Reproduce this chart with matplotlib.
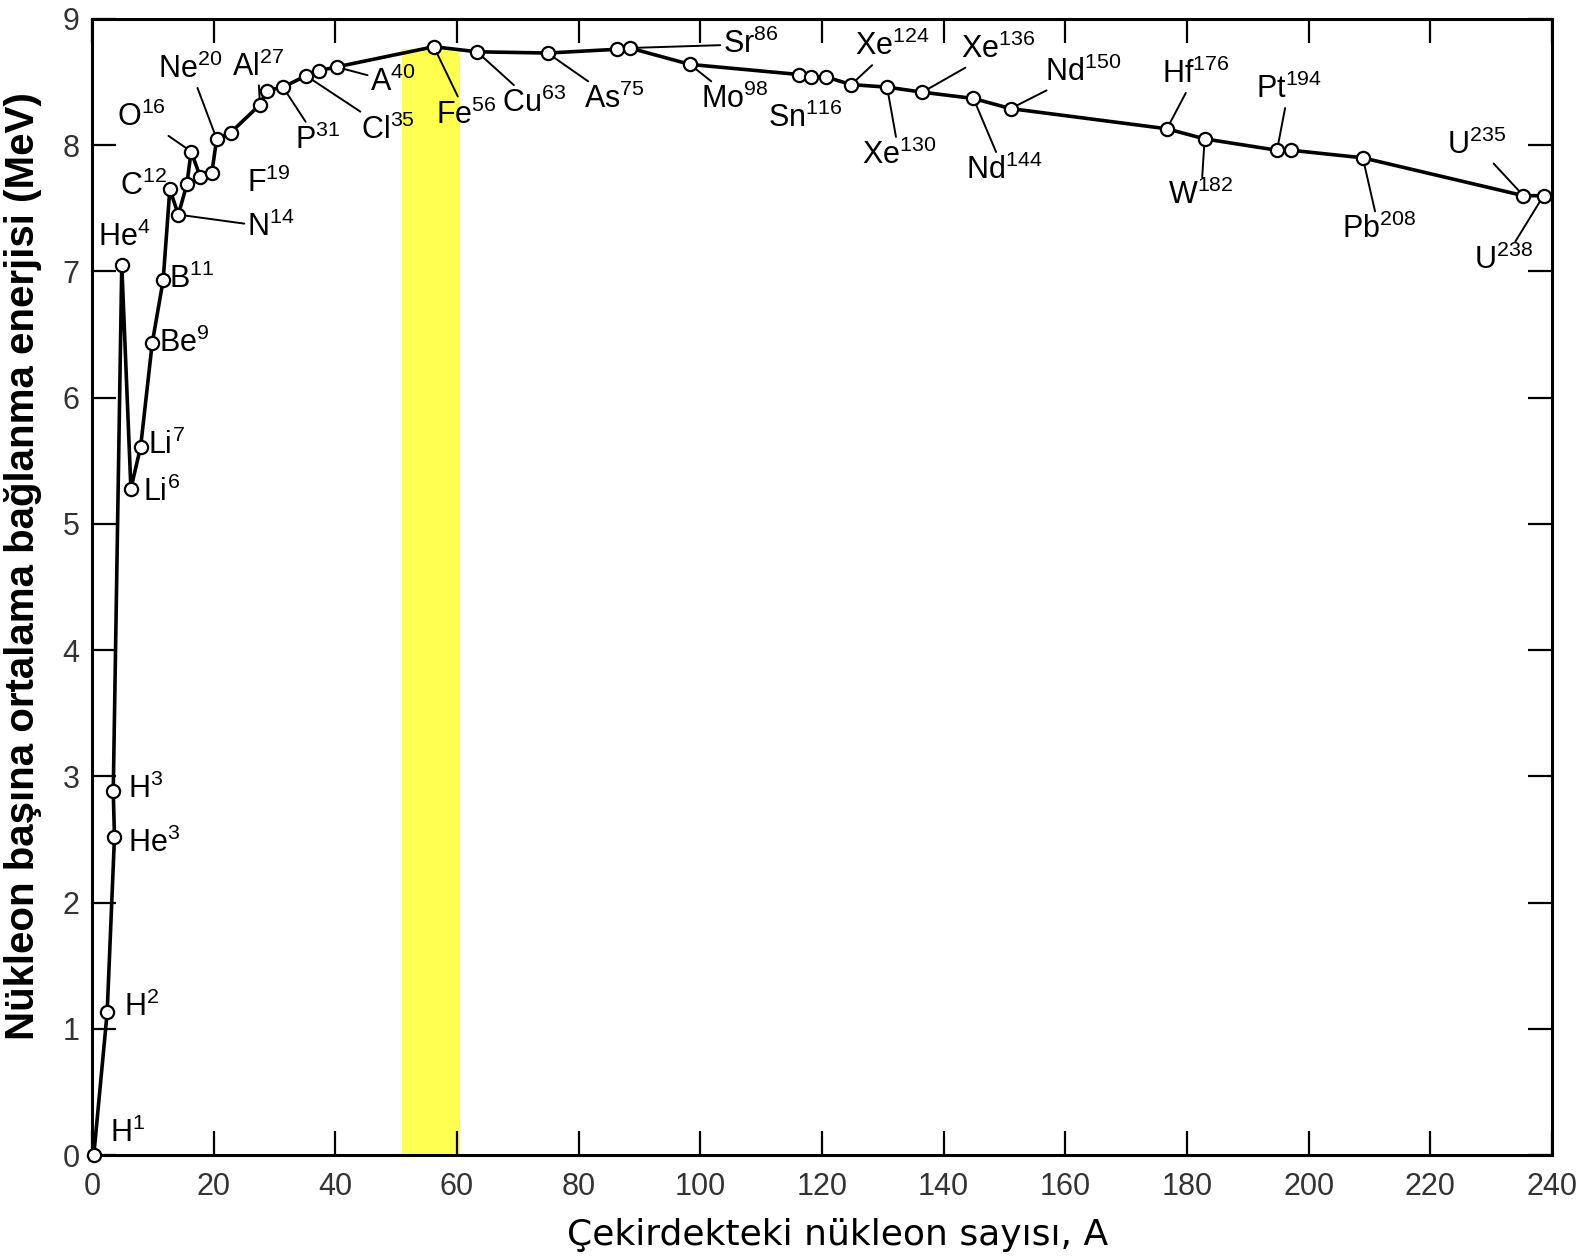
import numpy as np
import matplotlib.pyplot as plt

plt.rcParams['font.family'] = ['Liberation Sans', 'DejaVu Sans']
plt.rcParams['mathtext.default'] = 'regular'

# nucleus mass number A and binding energy per nucleon (MeV), in drawing order
mass_num = [0.3, 2.5, 3.7, 3.5, 4.9, 6.4, 8.0, 9.9, 11.7, 12.8, 14.2, 15.6, 16.3,
            17.8, 19.7, 20.5, 22.8, 27.6, 28.7, 31.4, 35.2, 37.3, 40.2, 56.2,
            63.3, 74.9, 86.3, 88.4, 98.3, 116.2, 118.2, 120.7, 124.8, 130.7,
            136.5, 144.9, 151.0, 176.7, 182.9, 194.8, 197.1, 208.9, 235.3, 238.6]
energy = [0.0, 1.13, 2.52, 2.88, 7.05, 5.28, 5.61, 6.43, 6.93, 7.65, 7.45, 7.69,
          7.95, 7.75, 7.78, 8.05, 8.10, 8.32, 8.43, 8.46, 8.55, 8.59, 8.62, 8.78,
          8.74, 8.73, 8.76, 8.77, 8.64, 8.56, 8.54, 8.54, 8.48, 8.46, 8.42, 8.37,
          8.29, 8.13, 8.05, 7.96, 7.96, 7.90, 7.60, 7.60]

# labelled nuclei: symbol, superscript, index of the point
symbols = ['H', 'H', 'H', 'He', 'He', 'Li', 'Li', 'Be', 'B', 'C', 'N', 'O', 'F',
           'Ne', 'Al', 'P', 'Cl', 'A', 'Fe', 'Cu', 'As', 'Sr', 'Mo', 'Sn', 'Xe',
           'Xe', 'Xe', 'Nd', 'Nd', 'Hf', 'W', 'Pt', 'Pb', 'U', 'U']
supers = ['1', '2', '3', '3', '4', '6', '7', '9', '11', '12', '14', '16', '19',
          '20', '27', '31', '35', '40', '56', '63', '75', '86', '98', '116', '124',
          '130', '136', '144', '150', '176', '182', '194', '208', '235', '238']
point_idx = [0, 1, 3, 2, 4, 5, 6, 7, 8, 9, 10, 12, 14, 15, 17, 19, 20, 22, 23, 24,
             25, 27, 28, 31, 32, 33, 34, 35, 36, 37, 38, 39, 41, 42, 43]
label_A = [5.9, 8.1, 8.9, 10.2, 5.3, 11.4, 12.3, 15.2, 16.4, 8.4, 29.4, 8.2, 29.0,
           16.2, 27.3, 37.1, 48.7, 49.5, 61.6, 72.7, 85.9, 108.3, 105.6, 117.2,
           131.5, 132.7, 148.9, 149.9, 162.9, 181.4, 182.3, 196.7, 211.6, 227.6, 232.1]
label_E = [0.17, 1.17, 2.9, 2.47, 7.27, 5.25, 5.62, 6.43, 6.94, 7.67, 7.35, 8.22,
           7.70, 8.60, 8.62, 8.04, 8.12, 8.50, 8.24, 8.33, 8.36, 8.80, 8.36, 8.21,
           8.78, 7.92, 8.76, 7.80, 8.58, 8.56, 7.60, 8.44, 7.33, 8.00, 7.09]
leader = [0, 0, 0, 0, 0, 0, 0, 0, 0, 0, 1, 1, 0, 1, 1, 1, 1, 1, 1, 1, 1, 1, 1, 0,
          1, 1, 1, 1, 1, 1, 1, 1, 1, 1, 1]

band_A = [51, 60.5]
band_top = 8.76

fig = plt.figure(figsize=(15.91, 12.56), dpi=100)
ax = fig.add_axes([0.0578, 0.0804, 0.9177, 0.9045])

ax.fill_between(band_A, 0, band_top, color='#ffff50', lw=0, zorder=1)
ax.plot(mass_num, energy, color='black', lw=2.6, marker='o', ms=9.5,
        mfc='white', mec='black', mew=1.6, zorder=3, clip_on=False)

for sym, sup, i, la, le, ld in zip(symbols, supers, point_idx, label_A, label_E, leader):
    txt = sym + '$^{' + sup + '}$'
    if ld:
        ax.annotate(txt, xy=(mass_num[i], energy[i]), xytext=(la, le),
                    ha='center', va='center', fontsize=22, zorder=4,
                    arrowprops=dict(arrowstyle='-', color='black', lw=1.4,
                                    shrinkA=0, shrinkB=5))
    else:
        ax.text(la, le, txt, ha='center', va='center', fontsize=22, zorder=4)

ax.set_xlim(0, 240)
ax.set_ylim(0, 9)
ax.set_xticks(np.arange(0, 241, 20))
ax.set_yticks(np.arange(0, 10, 1))
ax.tick_params(direction='in', length=17, width=1.6, top=True, right=True,
               labelsize=22, colors='black', labelcolor='#333333')
ax.tick_params(axis='x', pad=12)
ax.tick_params(axis='y', pad=9)
for s in ax.spines.values():
    s.set_linewidth(2.2)

ax.set_xlabel('Çekirdekteki nükleon sayısı, A', fontsize=26, family='DejaVu Sans')
ax.set_ylabel('Nükleon başına ortalama bağlanma enerjisi (MeV)', fontsize=29,
              fontweight='bold')
ax.xaxis.set_label_coords(0.511, -0.055)
ax.yaxis.set_label_coords(-0.034, 0.518)

fig.savefig('out.png', dpi=100)
